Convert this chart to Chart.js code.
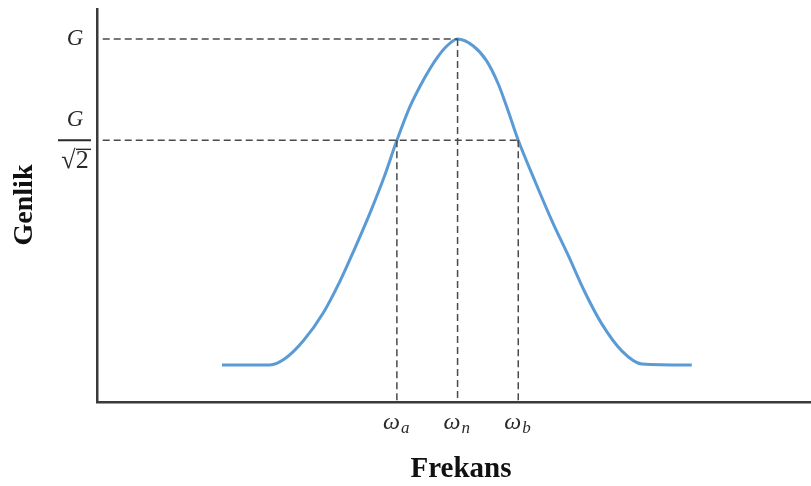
<!DOCTYPE html>
<html>
<head>
<meta charset="utf-8">
<script src="https://cdn.jsdelivr.net/npm/chart.js@4"></script>
<style>
  html, body { margin: 0; padding: 0; background: #fff; }
  #wrap { width: 811px; height: 486px; position: relative; }
</style>
</head>
<body>
<div id="wrap"><canvas id="bandChart"></canvas></div>
<script>
// frekans değerleri ve genlik (G = 1 birim)
const freq = [17.5, 24.2, 26.3, 28.9, 31.7, 34.0, 36.1, 38.2, 40.2, 42.0, 43.8, 45.7, 47.6, 49.0, 50.5,
              52.7, 54.5, 56.2, 57.6, 59.0, 61.3, 63.7, 66.0, 68.3, 70.7, 73.5, 76.3, 83.3];
const amp  = [0.057, 0.057, 0.075, 0.127, 0.208, 0.298, 0.394, 0.495, 0.600, 0.707, 0.803, 0.881, 0.945, 0.980, 1.0,
              0.980, 0.939, 0.870, 0.791, 0.707, 0.591, 0.475, 0.374, 0.269, 0.176, 0.098, 0.060, 0.057];

const G = 1;
const halfPower = 0.707;      // G / √2
const omegaA = 42.0;
const omegaN = 50.5;
const omegaB = 59.0;
const omegaLabels = [['a', omegaA], ['n', omegaN], ['b', omegaB]];

const yMin = -0.05;
const guideStart = 0.8;

function dashed(points) {
    return {
        data: points,
        borderColor: '#4a4a4a',
        borderWidth: 1.5,
        borderDash: [7, 4],
        pointRadius: 0,
        fill: false,
        tension: 0
    };
}

// matematik etiketleri: G, G/√2 ve ω alt simgeleri
const mathLabels = {
    id: 'mathLabels',
    afterDraw(chart) {
        const ctx = chart.ctx;
        const x = chart.scales.x, y = chart.scales.y;
        ctx.save();
        ctx.fillStyle = '#2a2a2a';
        ctx.strokeStyle = '#2a2a2a';
        ctx.textBaseline = 'middle';
        ctx.textAlign = 'center';
        ctx.font = 'italic 23px "Liberation Serif"';
        ctx.fillText('G', 75, y.getPixelForValue(G));

        const yh = y.getPixelForValue(halfPower);
        ctx.fillText('G', 75, yh - 20);
        ctx.lineWidth = 2;
        ctx.beginPath();
        ctx.moveTo(58, yh);
        ctx.lineTo(91, yh);
        ctx.stroke();
        ctx.font = '26px "Liberation Serif"';
        ctx.fillText('√2', 75, yh + 21);
        ctx.lineWidth = 1.4;
        ctx.beginPath();
        ctx.moveTo(76, yh + 9);
        ctx.lineTo(91, yh + 9);
        ctx.stroke();

        ctx.textBaseline = 'alphabetic';
        omegaLabels.forEach(([sub, v]) => {
            const px = x.getPixelForValue(v);
            ctx.font = 'italic 24px "Liberation Serif"';
            ctx.textAlign = 'right';
            ctx.fillText('ω', px + 3, 429);
            ctx.font = 'italic 17px "Liberation Serif"';
            ctx.textAlign = 'left';
            ctx.fillText(sub, px + 4, 433);
        });

        ctx.fillStyle = '#111';
        ctx.textAlign = 'center';
        ctx.textBaseline = 'middle';
        ctx.font = 'bold 29px "Liberation Serif"';
        ctx.fillText('Frekans', 461, 470);

        ctx.translate(25, 205);
        ctx.rotate(-Math.PI / 2);
        ctx.font = 'bold 28px "Liberation Serif"';
        ctx.fillText('Genlik', 0, 0);
        ctx.restore();
    }
};

new Chart(document.getElementById('bandChart').getContext('2d'), {
    type: 'line',
    data: {
        datasets: [
            dashed([{ x: guideStart, y: G }, { x: omegaN, y: G }]),
            dashed([{ x: guideStart, y: halfPower }, { x: omegaB, y: halfPower }]),
            dashed([{ x: omegaA, y: halfPower }, { x: omegaA, y: yMin }]),
            dashed([{ x: omegaN, y: G }, { x: omegaN, y: yMin }]),
            dashed([{ x: omegaB, y: halfPower }, { x: omegaB, y: yMin }]),
            {
                data: freq.map((f, i) => ({ x: f, y: amp[i] })),
                borderColor: '#5b9bd5',
                borderWidth: 3,
                pointRadius: 0,
                fill: false,
                cubicInterpolationMode: 'monotone'
            }
        ]
    },
    options: {
        responsive: true,
        maintainAspectRatio: false,
        animation: false,
        layout: { padding: { left: 97, top: 9, right: 0, bottom: 84 } },
        plugins: {
            legend: { display: false },
            tooltip: { enabled: false }
        },
        scales: {
            x: {
                type: 'linear',
                min: 0,
                max: 100,
                grid: { display: false, drawTicks: false },
                ticks: { display: false },
                border: { color: '#3a3a3a', width: 2.5 }
            },
            y: {
                min: yMin,
                max: 1.087,
                grid: { display: false, drawTicks: false },
                ticks: { display: false },
                border: { color: '#3a3a3a', width: 2.5 }
            }
        }
    },
    plugins: [mathLabels]
});
</script>
</body>
</html>
